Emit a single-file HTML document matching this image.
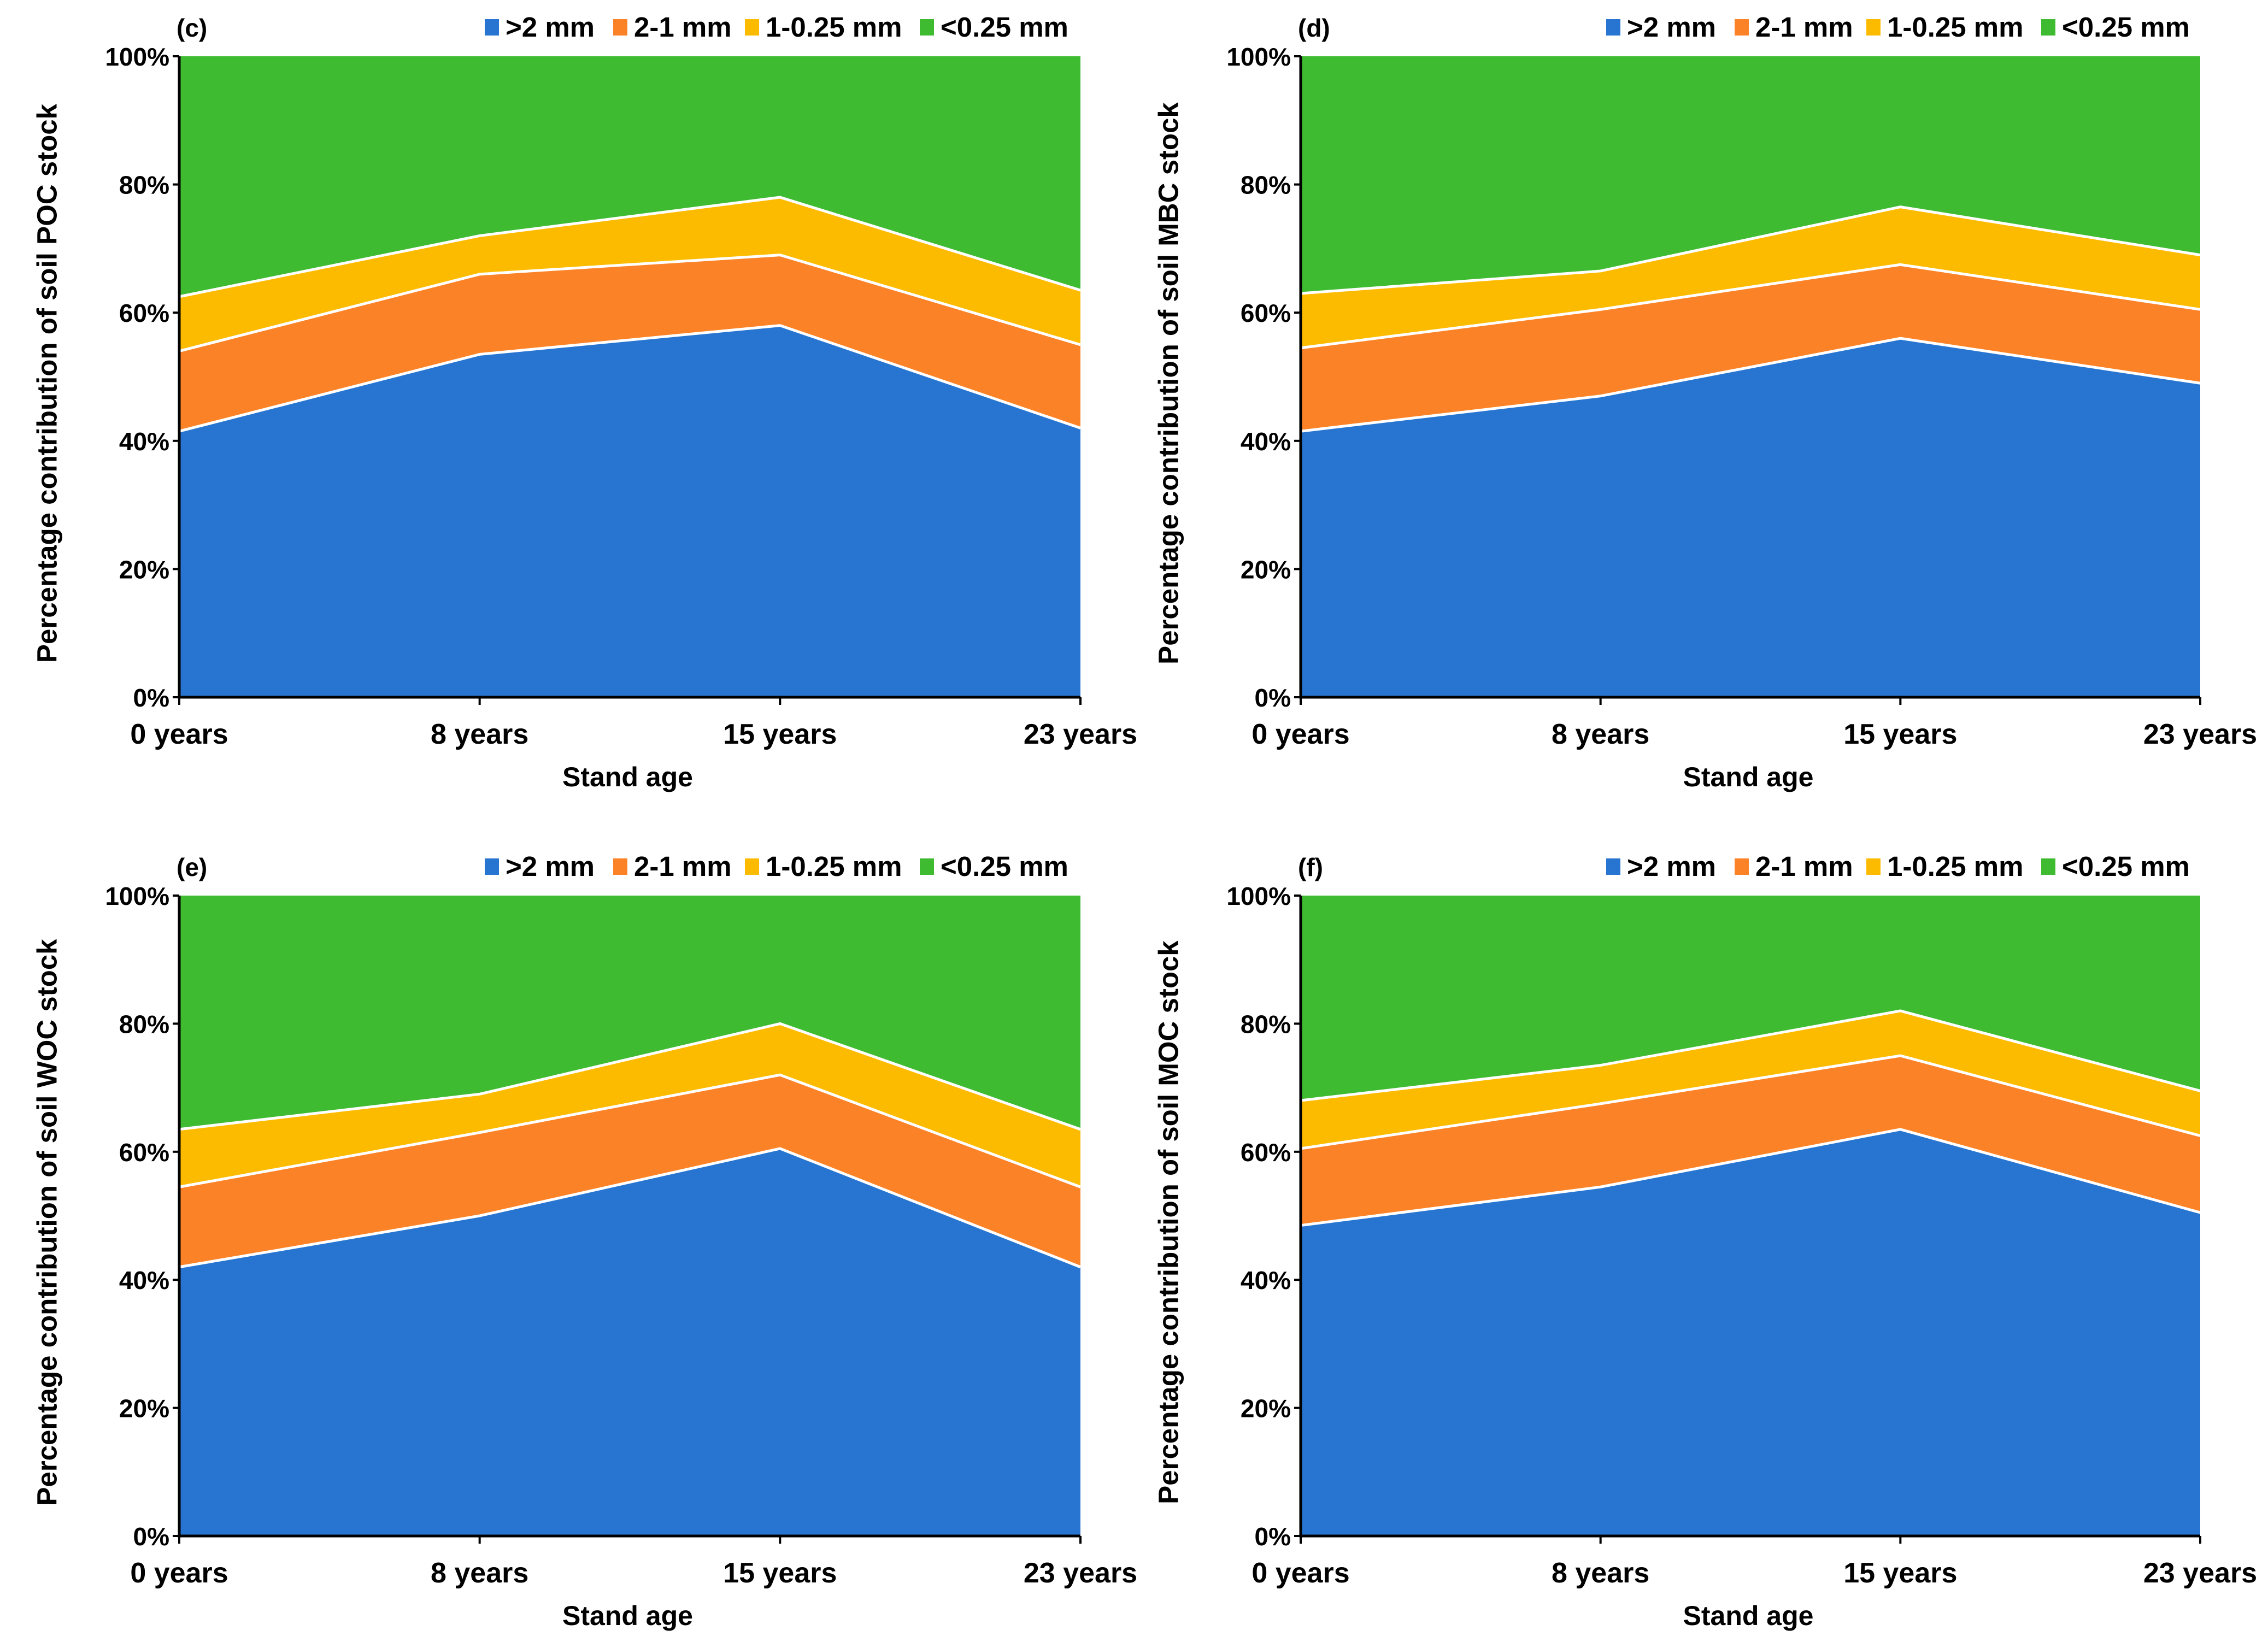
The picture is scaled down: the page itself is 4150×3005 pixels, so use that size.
<!DOCTYPE html>
<html><head><meta charset="utf-8"><style>
html,body{margin:0;padding:0;background:#fff;}
svg{display:block;font-family:"Liberation Sans",Arial,sans-serif;font-weight:bold;}
</style></head>
<body>
<svg id="fig" width="4150" height="3005" viewBox="0 0 4150 3005" xmlns="http://www.w3.org/2000/svg"></svg>
<script>
const categories = ["0 years","8 years","15 years","23 years"];
const yTicks = [0,20,40,60,80,100];
const yTickLabels = ["0%","20%","40%","60%","80%","100%"];
const legendLabels = [">2 mm","2-1 mm","1-0.25 mm","<0.25 mm"];
const colors = ["#2775d0","#fb8226","#fdbb00","#3fbb32"];
// cumulative boundaries (%) per panel
const pocBlue = [41.5,53.5,58,42];
const pocOrange = [54,66,69,55];
const pocYellow = [62.5,72,78,63.5];
const mbcBlue = [41.5,47,56,49];
const mbcOrange = [54.5,60.5,67.5,60.5];
const mbcYellow = [63,66.5,76.5,69];
const wocBlue = [42,50,60.5,42];
const wocOrange = [54.5,63,72,54.5];
const wocYellow = [63.5,69,80,63.5];
const mocBlue = [48.5,54.5,63.5,50.5];
const mocOrange = [60.5,67.5,75,62.5];
const mocYellow = [68,73.5,82,69.5];

const panels = [
 {id:"c",tag:"(c)",ylab:"Percentage contribution of soil POC stock",x0:328,x1:1977,y0:103,y1:1276,layers:[pocBlue,pocOrange,pocYellow]},
 {id:"d",tag:"(d)",ylab:"Percentage contribution of soil MBC stock",x0:2380,x1:4026,y0:103,y1:1276,layers:[mbcBlue,mbcOrange,mbcYellow]},
 {id:"e",tag:"(e)",ylab:"Percentage contribution of soil WOC stock",x0:328,x1:1977,y0:1639,y1:2811,layers:[wocBlue,wocOrange,wocYellow]},
 {id:"f",tag:"(f)",ylab:"Percentage contribution of soil MOC stock",x0:2380,x1:4026,y0:1639,y1:2811,layers:[mocBlue,mocOrange,mocYellow]}
];
const NS="http://www.w3.org/2000/svg";
const svg=document.getElementById('fig');
function mk(tag,attrs,parent,text){const e=document.createElementNS(NS,tag);for(const k in attrs)e.setAttribute(k,attrs[k]);if(text!==undefined)e.textContent=text;(parent||svg).appendChild(e);return e;}
panels.forEach(p=>{
  const g=mk('g',{});
  
  
  const xs=i=>p.x0+(p.x1-p.x0)*i/(categories.length-1);
  const ys=v=>p.y1-(p.y1-p.y0)*v/100;
  const bounds=[categories.map(()=>0)].concat(p.layers).concat([categories.map(()=>100)]);
  for(let L=0;L<4;L++){
    const lo=bounds[L],hi=bounds[L+1];
    let d='';
    hi.forEach((v,i)=>{d+=(i?'L':'M')+xs(i)+' '+ys(v)+' ';});
    for(let i=lo.length-1;i>=0;i--)d+='L'+xs(i)+' '+ys(lo[i])+' ';
    const a=mk('path',{d:d+'Z',fill:colors[L]},g);
    
    
  }
  p.layers.forEach((arr,L)=>{
    const pts=arr.map((v,i)=>xs(i)+','+ys(v)).join(' ');
    const ln=mk('polyline',{points:pts,fill:'none',stroke:'#fff','stroke-width':5},g);
    
    
  });
  const ax=mk('path',{d:`M${p.x0} ${p.y0}V${p.y1}H${p.x1}`,fill:'none',stroke:'#000','stroke-width':5},g);
  
  
  yTicks.forEach((t,i)=>{
    mk('line',{x1:p.x0-12,x2:p.x0,y1:ys(t),y2:ys(t),stroke:'#000','stroke-width':4},g);
    const tl=mk('text',{x:p.x0-18,y:ys(t)+17,'font-size':46,'text-anchor':'end'},g,yTickLabels[i]);
    
    
  });
  categories.forEach((c,i)=>{
    mk('line',{x1:xs(i),x2:xs(i),y1:p.y1,y2:p.y1+14,stroke:'#000','stroke-width':4},g);
    const xl=mk('text',{x:xs(i),y:p.y1+85,'font-size':52,'text-anchor':'middle'},g,c);
    
    
  });
  const xt=mk('text',{x:(p.x0+p.x1)/2 - 4,y:p.y1+163,'font-size':50,'text-anchor':'middle'},g,'Stand age');
  
  
  const cy=(p.y0+p.y1)/2 + 12, cx=p.x0-238;
  const yt=mk('text',{x:cx,y:cy,'font-size':51,'text-anchor':'middle',transform:`rotate(-90 ${cx} ${cy})`,'dominant-baseline':'middle'},g,p.ylab);
  
  
  const tg=mk('text',{x:p.x0-5,y:p.y0-36,'font-size':46},g,p.tag);
  
  
  const lx=[887,1122,1363,1683].map(v=>v-328+p.x0);
  legendLabels.forEach((lab,i)=>{
    const le=mk('g',{},g);
    
    
    mk('rect',{x:lx[i],y:p.y0-68,width:26,height:30,fill:colors[i]},le);
    mk('text',{x:lx[i]+38,y:p.y0-36,'font-size':51},le,lab);
  });
});
</script>
</body></html>
